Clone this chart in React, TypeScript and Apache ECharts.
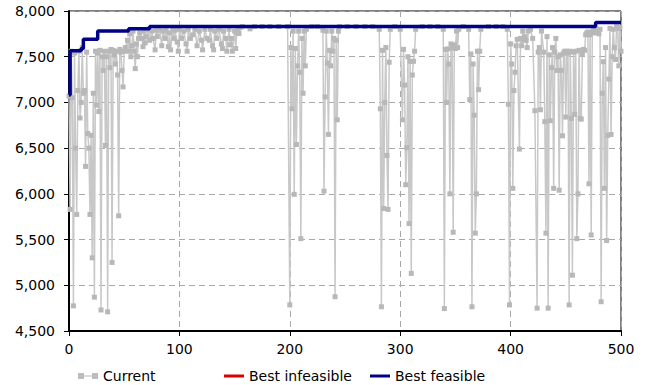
import React, { useEffect, useRef } from "react";
import * as echarts from "echarts";

// Current solution value per iteration [iteration, value]
const currentPoints: [number, number][] = [
  [0, 7070], [1, 5830], [2, 7560], [3, 7050], [4, 4775], [5, 7540], [6, 6500], [7, 5775],
  [8, 7130], [9, 7560], [10, 6830], [11, 7000], [12, 7600], [13, 7100], [14, 7130], [15, 6300],
  [16, 7550], [17, 6660], [18, 6500], [19, 5775], [20, 6640], [21, 5300], [22, 7100], [23, 4870],
  [24, 7560], [25, 6970], [26, 7540], [27, 6900], [28, 7570], [29, 4730], [30, 7500], [31, 7350],
  [32, 7560], [33, 6530], [34, 7500], [35, 4710], [36, 7560], [37, 7380], [38, 7580], [39, 5250],
  [40, 7570], [41, 7520], [42, 7420], [43, 7560], [44, 7300], [45, 5760], [46, 7580], [47, 7550],
  [48, 7350], [49, 7170], [50, 7560],
  [51, 7600], [53, 7680], [54, 7560], [55, 7750], [56, 7500], [57, 7620], [58, 7780], [59, 7560],
  [60, 7370], [61, 7640], [62, 7500], [63, 7700], [64, 7760], [66, 7700], [67, 7610], [68, 7780],
  [69, 7650], [70, 7720], [72, 7800], [73, 7680], [75, 7780], [76, 7700], [78, 7575], [79, 7790],
  [80, 7720], [82, 7800], [84, 7620], [85, 7780], [87, 7700], [88, 7790], [90, 7610], [91, 7760],
  [92, 7575], [94, 7800], [95, 7700], [96, 7790], [98, 7660], [99, 7560], [100, 7800], [102, 7700],
  [104, 7780], [106, 7640], [107, 7560], [108, 7800], [110, 7700], [112, 7740], [114, 7800], [116, 7620],
  [118, 7780], [120, 7680], [121, 7575], [123, 7800], [125, 7700], [127, 7680], [128, 7800], [130, 7620],
  [131, 7575], [132, 7780], [134, 7700], [136, 7800], [138, 7640], [139, 7590], [140, 7780], [142, 7700],
  [143, 7560], [145, 7800], [146, 7630], [147, 7700], [148, 7560], [150, 7780], [151, 7590], [152, 7760],
  [153, 7800], [154, 7755], [155, 7820],
  [157, 7830], [164, 7805], [168, 7830], [175, 7830], [182, 7830], [190, 7830], [198, 7830],
  [200, 4785], [201, 7600], [202, 6930], [203, 7780], [204, 5995], [205, 7590], [206, 6540], [207, 7400],
  [208, 7780], [209, 7330], [210, 5510], [211, 7700], [212, 7100], [213, 7780], [214, 7400], [215, 7800],
  [220, 7830], [225, 7830],
  [230, 7790], [231, 6030], [232, 7060], [233, 7780], [234, 7430], [235, 6650], [236, 7570], [237, 7400],
  [238, 7780], [239, 7560], [240, 7700], [241, 4875], [242, 7680], [243, 6810], [244, 7780], [245, 7830],
  [252, 7830], [260, 7830], [268, 7830], [275, 7830],
  [281, 7800], [282, 6930], [283, 4765], [284, 7570], [285, 5840], [286, 7000], [287, 7600], [288, 6420],
  [289, 5830], [290, 7440], [291, 7800], [295, 7830],
  [300, 7800], [302, 6810], [303, 7580], [304, 7190], [305, 6100], [306, 6505], [307, 7500], [308, 5675],
  [309, 7450], [310, 5130], [311, 7300], [312, 7450], [313, 7560], [314, 7800],
  [320, 7830], [327, 7830], [334, 7830],
  [339, 7800], [340, 4745], [341, 7580], [342, 7000], [343, 7585], [344, 7420], [345, 6000], [346, 7640],
  [347, 7600], [348, 5580], [349, 7630], [350, 7590], [351, 7780], [352, 7600], [353, 7800],
  [357, 7830],
  [362, 7800], [363, 7030], [364, 7530], [365, 4765], [366, 7420], [367, 6860], [368, 5570], [369, 6000],
  [370, 7560], [371, 7140], [372, 7560], [373, 7800],
  [380, 7830], [387, 7830], [393, 7830],
  [397, 7800], [398, 6980], [399, 4785], [400, 7640], [401, 7420], [402, 6060], [403, 7130], [404, 7330],
  [405, 7620], [406, 7690], [408, 6490], [409, 7700], [410, 7620], [411, 7780], [412, 7680], [413, 7720],
  [414, 7680], [415, 7600], [416, 7780], [418, 7800], [420, 7700], [422, 6910], [424, 4750], [425, 7550],
  [426, 7600], [427, 6920], [428, 7780], [430, 7550], [431, 6790], [432, 5570], [433, 7720], [434, 4750],
  [435, 7520], [436, 6800], [437, 7380], [438, 7600], [439, 6060], [440, 7550], [441, 7700], [442, 7350],
  [443, 7500], [444, 6040], [445, 7520], [446, 7350], [447, 6635], [448, 7540], [449, 7560], [450, 6840],
  [451, 7560], [452, 7540], [453, 4785], [454, 7560], [455, 6825], [456, 5110], [457, 7550], [458, 6870],
  [459, 7560], [460, 5510], [461, 6000], [462, 7570], [463, 6825], [464, 6817], [465, 7530], [466, 7580],
  [467, 7570], [468, 7740], [469, 7760], [470, 7770], [471, 6110], [472, 7740], [473, 5550], [474, 7770],
  [475, 7790], [476, 7760], [477, 7800], [478, 7780], [479, 7790], [480, 7750], [481, 7800], [482, 4820],
  [483, 7100], [484, 7445], [485, 6060], [486, 7600], [487, 5490], [488, 6640], [489, 7256], [490, 7810],
  [491, 6650], [492, 7500], [493, 7800], [494, 7600], [495, 7470], [496, 7830], [497, 7810], [498, 7400],
  [499, 7820], [500, 7560],
];

// Best feasible value (step changes) [iteration, value]
const bestFeasiblePoints: [number, number][] = [
  [0, 7080], [1, 7565], [11, 7590], [13, 7690], [26, 7780], [54, 7805], [73, 7830], [477, 7875], [500, 7875],
];

// Best infeasible: no values in this run
const bestInfeasiblePoints: [number, number][] = [];

const seriesNames = ["Current", "Best infeasible", "Best feasible"];

const FONT = "DejaVu Sans";

export default function App() {
  const ref = useRef<HTMLDivElement>(null);
  useEffect(() => {
    if (!ref.current) return;
    const chart = echarts.init(ref.current, null, { renderer: "svg" });
    const legendBase = {
      top: 364,
      itemGap: 0,
      textStyle: { fontFamily: FONT, fontSize: 14, color: "#000" },
    };
    chart.setOption({
      animation: false,
      backgroundColor: "#fff",
      grid: {
        left: 69,
        right: 24,
        top: 11,
        bottom: 54,
        show: true,
        borderColor: "#000",
        borderWidth: 1,
      },
      legend: [
        {
          ...legendBase,
          left: 73,
          itemWidth: 20,
          itemHeight: 6,
          data: [
            {
              name: seriesNames[0],
              icon: "path://M0,0H6V6H0Z M6,2.5H14V3.5H6Z M14,0H20V6H14Z",
              itemStyle: { color: "#bdbdbd" },
            },
          ],
        },
        {
          ...legendBase,
          left: 219,
          itemWidth: 20,
          itemHeight: 3,
          data: [{ name: seriesNames[1], icon: "rect" }],
        },
        {
          ...legendBase,
          left: 365,
          itemWidth: 20,
          itemHeight: 3,
          data: [{ name: seriesNames[2], icon: "rect" }],
        },
      ],
      xAxis: {
        type: "value",
        min: 0,
        max: 500,
        interval: 100,
        axisLine: { show: true, onZero: false, lineStyle: { color: "#000", width: 2 } },
        axisTick: { show: true, length: 5, lineStyle: { color: "#000", width: 1 } },
        axisLabel: { fontFamily: FONT, fontSize: 14, color: "#000", margin: 11 },
        splitLine: { show: true, lineStyle: { color: "#a8a8a8", type: [6, 4], width: 1 } },
      },
      yAxis: {
        type: "value",
        min: 4500,
        max: 8000,
        interval: 500,
        axisLine: { show: true, onZero: false, lineStyle: { color: "#000", width: 2 } },
        axisTick: { show: true, length: 5, lineStyle: { color: "#000", width: 1 } },
        axisLabel: {
          fontFamily: FONT,
          fontSize: 14,
          color: "#000",
          margin: 14,
          formatter: (v: number) => v.toLocaleString("en-US"),
        },
        splitLine: { show: true, lineStyle: { color: "#a8a8a8", type: [6, 4], width: 1 } },
      },
      series: [
        {
          name: seriesNames[0],
          type: "line",
          data: currentPoints,
          symbol: "rect",
          symbolSize: 5,
          showSymbol: true,
          showAllSymbol: true,
          lineStyle: { color: "#c8c8c8", width: 1.5 },
          itemStyle: { color: "#b8b8b8" },
          z: 2,
        },
        {
          name: seriesNames[1],
          type: "line",
          data: bestInfeasiblePoints,
          symbol: "none",
          lineStyle: { color: "#dd0000", width: 3 },
          itemStyle: { color: "#dd0000" },
          z: 3,
        },
        {
          name: seriesNames[2],
          type: "line",
          data: bestFeasiblePoints,
          step: "end",
          symbol: "none",
          lineStyle: { color: "#000088", width: 3.5 },
          itemStyle: { color: "#000088" },
          z: 4,
        },
      ],
    });
    return () => chart.dispose();
  }, []);
  return (
    <div
      ref={ref}
      style={{ position: "fixed", left: 0, top: 0, width: 645, height: 385 }}
    />
  );
}
